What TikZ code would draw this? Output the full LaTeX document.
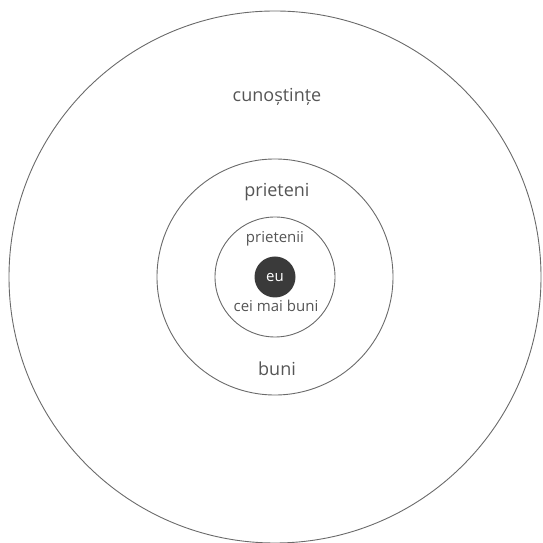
\documentclass[tikz,border=0pt]{standalone}
\usepackage{fontspec}
\setmainfont{Open Sans}
\definecolor{ringgray}{HTML}{6A6A6A}
\definecolor{textgray}{HTML}{555555}
\definecolor{dotgray}{HTML}{3A3A3A}
\begin{document}
\begin{tikzpicture}[x=1pt,y=1pt,
  ring/.style={circle,draw=ringgray,line width=0.9pt,inner sep=0pt},
  bigtxt/.style={text=textgray,font=\fontsize{18}{20}\selectfont,inner sep=0pt},
  smalltxt/.style={text=textgray,font=\fontsize{15}{17}\selectfont,inner sep=0pt}]
\useasboundingbox (0,0) rectangle (542,543);
\node[ring,minimum size=532pt] (outer) at (275,266) {};
\node[ring,minimum size=236pt] (middle) at (275,266) {};
\node[ring,minimum size=120pt] (inner) at (275,266) {};
\node[circle,fill=dotgray,minimum size=41pt,inner sep=0pt] (me) at (275,266) {};
\node[text=white,font=\fontsize{15}{17}\selectfont,inner sep=0pt] (eu) at (me.center) {eu};
\node[bigtxt] (cun) at (277,446) {cunoștințe};
\node[bigtxt] (prieteni) at (277,351) {prieteni};
\node[smalltxt] (prietenii) at (275,304) {prietenii};
\node[smalltxt] (ceimai) at (276,237) {cei mai buni};
\node[bigtxt] (buni) at (277,174) {buni};
\end{tikzpicture}
\end{document}
